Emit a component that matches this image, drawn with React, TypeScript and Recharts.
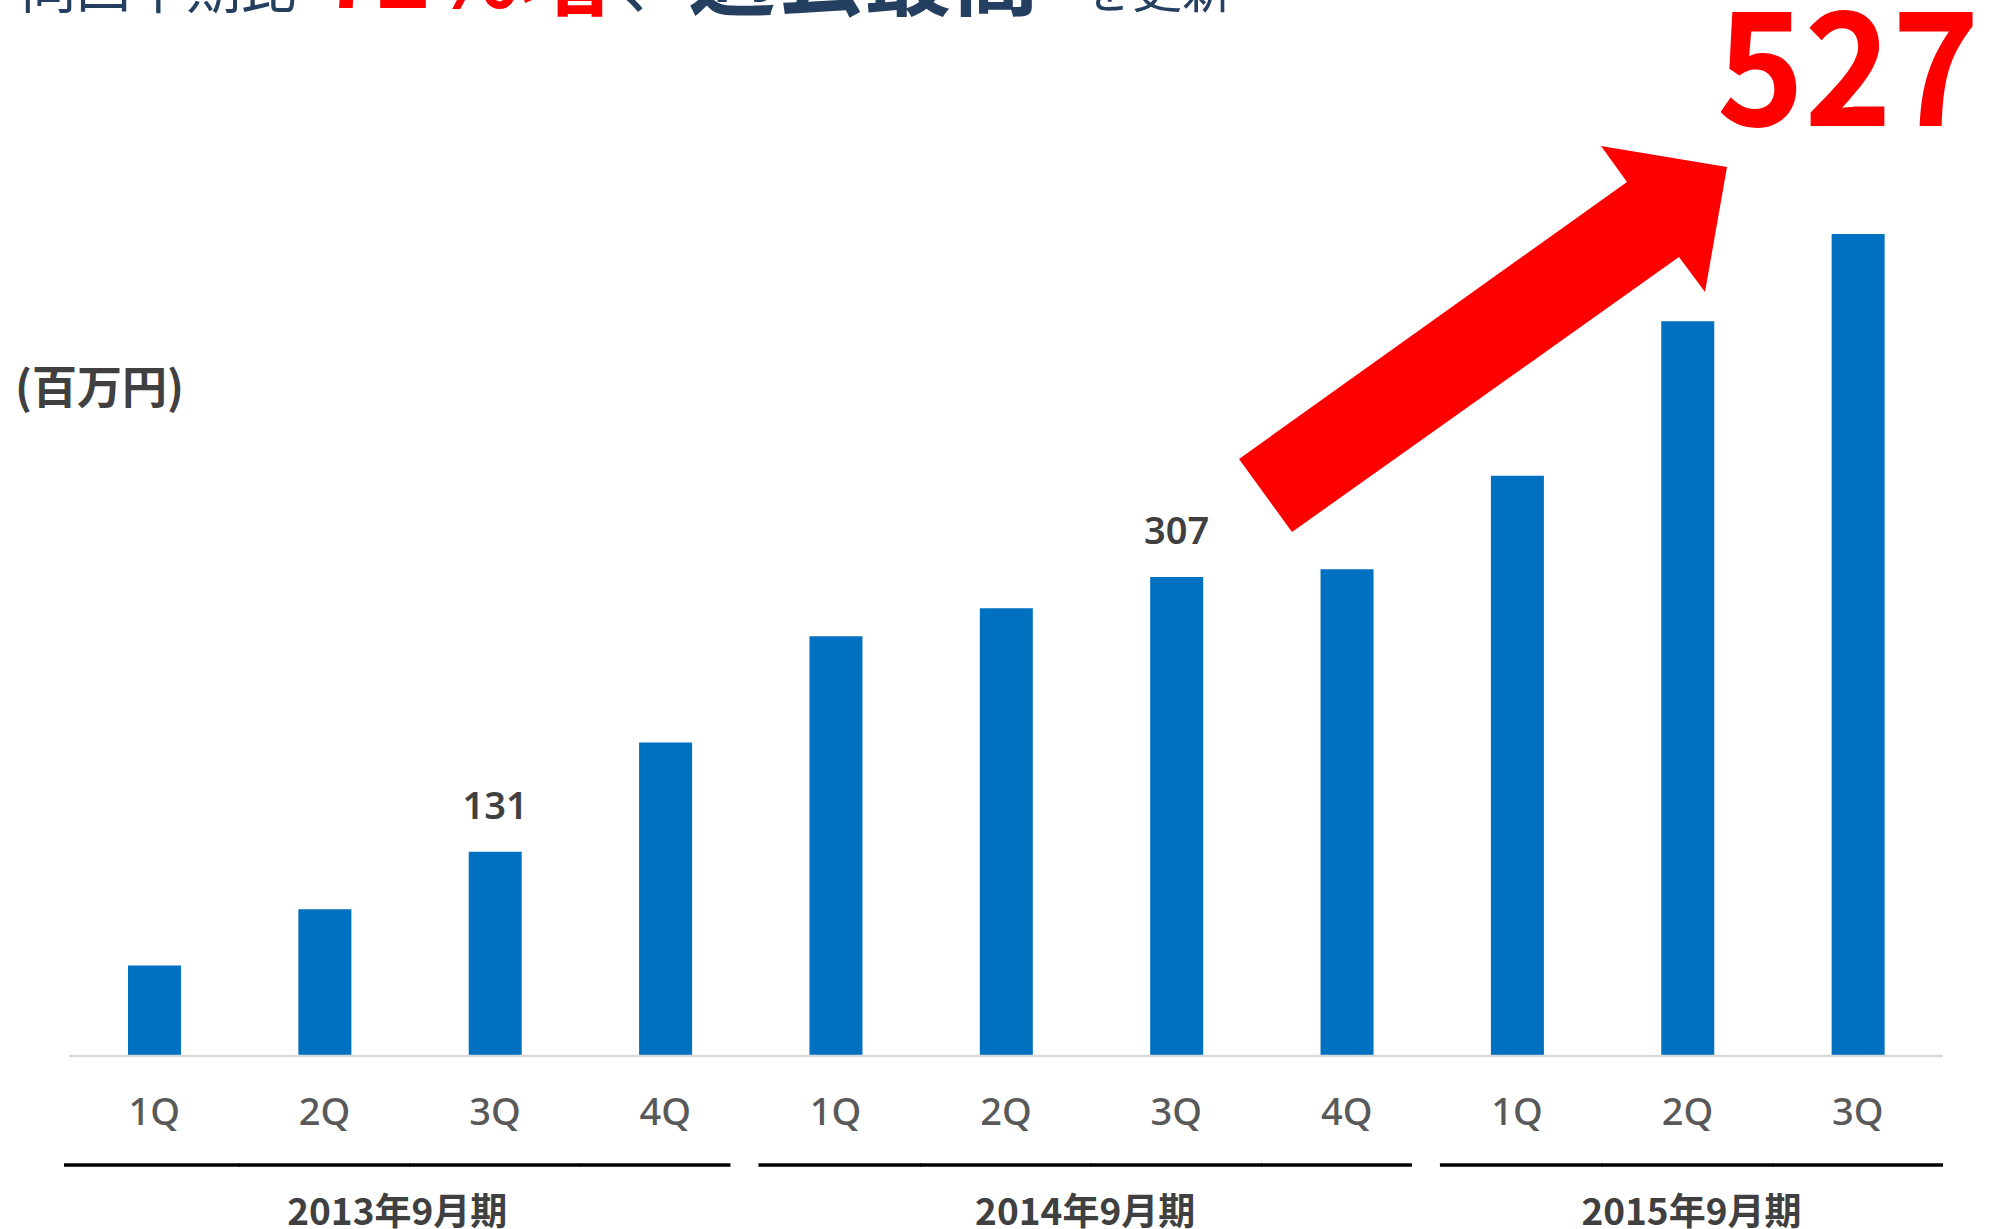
import { BarChart, Bar, XAxis, YAxis, LabelList } from "recharts"

const quarters = ["1Q", "2Q", "3Q", "4Q", "1Q", "2Q", "3Q", "4Q", "1Q", "2Q", "3Q"]
const fiscalYears = [
  "2013年9月期", "2013年9月期", "2013年9月期", "2013年9月期",
  "2014年9月期", "2014年9月期", "2014年9月期", "2014年9月期",
  "2015年9月期", "2015年9月期", "2015年9月期",
]
const sales = [58, 94, 131, 201, 269, 287, 307, 312, 372, 471, 527]
const labeledBars = [2, 6]
const highlightBar = 10

const W = 2002
const H = 1229
const M = { top: 120, right: 59, left: 69, bottom: 0 }
const BAND = (W - M.left - M.right) / quarters.length
const JP = '"Noto Sans CJK JP", "Noto Sans", sans-serif'
const LATIN = '"Noto Sans", "Noto Sans CJK JP", sans-serif'

const data = quarters.map((q, i) => ({ id: `${fiscalYears[i]}-${q}`, sales: sales[i] }))

// group underline ends: small gap between fiscal years
function groupStart(x: number, index: number) {
  return x - BAND / 2 + (index > 0 ? 8 : -5)
}
function groupEnd(x: number, index: number) {
  return x + BAND / 2 - (index < fiscalYears.length - 1 ? 20 : 0)
}

function QuarterTick(props: any) {
  const { x, y, index } = props
  const fy = fiscalYears[index]
  const first = index === 0 || fiscalYears[index - 1] !== fy
  const last = index === fiscalYears.length - 1 || fiscalYears[index + 1] !== fy
  const x1 = first ? groupStart(x, index) : x - BAND / 2 - 0.5
  const x2 = last ? groupEnd(x, index) : x + BAND / 2 + 0.5
  let yearLabel = null
  if (first) {
    const count = fiscalYears.filter((f) => f === fy).length
    const left = groupStart(x, index)
    const right = groupEnd(x + (count - 1) * BAND, index + count - 1)
    yearLabel = (
      <text x={(left + right) / 2} y={y + 169} textAnchor="middle" fontSize={37} fontWeight={700} fill="#404040" fontFamily={JP}>
        {fy}
      </text>
    )
  }
  return (
    <g>
      <text x={x} y={y + 69} textAnchor="middle" fontSize={38} fontWeight={500} fill="#595959" fontFamily={LATIN}>
        {quarters[index]}
      </text>
      <line x1={x1} x2={x2} y1={y + 109} y2={y + 109} stroke="#000" strokeWidth={3.5} />
      {yearLabel}
    </g>
  )
}

function ValueLabel(props: any) {
  const { x, y, width, value, index } = props
  if (index === highlightBar) {
    return (
      <text x={x + width / 2 - 10} y={y - 108} textAnchor="middle" fontSize={158} fontWeight={700} fill="#FF0000" fontFamily={JP} textLength={263} lengthAdjust="spacingAndGlyphs">
        {value}
      </text>
    )
  }
  if (!labeledBars.includes(index)) return null
  return (
    <text x={x + width / 2} y={y - 33} textAnchor="middle" fontSize={38} fontWeight={600} fill="#404040" fontFamily={LATIN}>
      {value}
    </text>
  )
}

export default function App() {
  return (
    <div style={{ position: "absolute", left: 0, top: 0, width: W, height: H, background: "#fff", overflow: "hidden" }}>
      <BarChart width={W} height={H} data={data} margin={M}>
        <YAxis hide domain={[0, 600]} />
        <XAxis
          dataKey="id"
          height={173}
          tickLine={false}
          tickSize={0}
          tickMargin={0}
          interval={0}
          axisLine={{ stroke: "#D9D9D9", strokeWidth: 2.5 }}
          tick={<QuarterTick />}
        />
        <Bar dataKey="sales" fill="#0070C0" barSize={53} isAnimationActive={false}>
          <LabelList dataKey="sales" content={<ValueLabel />} />
        </Bar>
      </BarChart>
      <svg width={W} height={H} style={{ position: "absolute", left: 0, top: 0, pointerEvents: "none" }}>
        <text y={8} fontFamily={JP} fill="#243F60">
          <tspan x={21} fontSize={55}>同四半期比</tspan>
          <tspan x={322} fontSize={92} fontWeight={700} fill="#FF0000">72%増</tspan>
          <tspan x={620} fontSize={66}>、</tspan>
          <tspan x={688} fontSize={88} fontWeight={700}>過去最高</tspan>
          <tspan x={1082} fontSize={50}>を更新</tspan>
        </text>
        <text x={15} y={404} fontSize={45} fontWeight={700} fill="#404040" fontFamily={JP}>
          (百万円)
        </text>
        <polygon
          points="1239,459 1292,532 1679,257 1705,292 1727,167 1601,146 1627,182"
          fill="#FF0000"
        />
      </svg>
    </div>
  )
}
